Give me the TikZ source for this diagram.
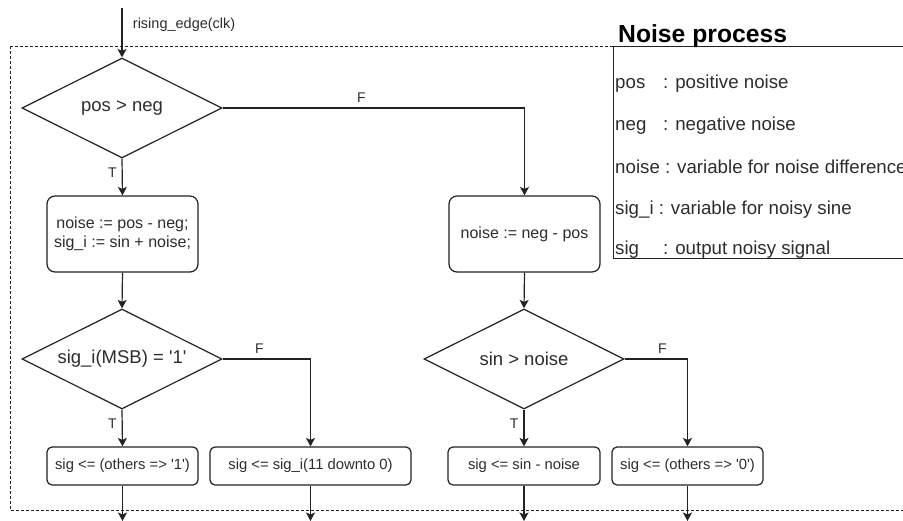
\documentclass[tikz,border=0pt]{standalone}
\usepackage{fontspec}
\setmainfont{Liberation Sans}[Ligatures=TeXOff]
\usetikzlibrary{shapes.geometric,arrows.meta}

\definecolor{ink}{RGB}{34,34,34}
\definecolor{txt}{RGB}{45,45,45}

\begin{document}
\begin{tikzpicture}[x=1pt,y=-1pt,
  every node/.style={text=txt},
  proc/.style={draw=ink, line width=1.2pt, fill=white, rounded corners=8pt,
    align=center, minimum width=151pt, minimum height=76pt, inner sep=2pt,
    font=\fontsize{16}{18.5}\selectfont},
  assign/.style={draw=ink, line width=1.2pt, fill=white, rounded corners=5pt,
    align=center, minimum height=38pt, inner sep=2pt,
    font=\fontsize{14.8}{17}\selectfont},
  decision/.style={diamond, aspect=2, draw=ink, line width=1.2pt, fill=white,
    minimum width=200pt, minimum height=100pt, inner sep=0pt,
    font=\fontsize{18.5}{22}\selectfont},
  flow/.style={draw=ink, line width=1.2pt, -{Stealth[length=8.5pt,width=9pt,inset=2pt]}},
  branch/.style={font=\fontsize{14}{16}\selectfont, inner sep=2pt},
  legendtext/.style={font=\fontsize{18.7}{22}\selectfont, anchor=base west, inner sep=0pt},
  frame/.style={draw=ink, line width=1pt, dash pattern=on 3pt off 2pt}
]
\path[use as bounding box] (0,0) rectangle (903,520);
\clip (0,0) rectangle (903,520);

% process boundary
\draw[frame] (10,46) rectangle (980,510);

% legend
\node[draw=ink, line width=1.2pt, fill=white, minimum width=380pt, minimum height=212pt,
      anchor=north west, inner sep=0pt] (legend) at (613,46) {};
\node[anchor=base west, inner sep=0pt, text=black,
      font=\bfseries\fontsize{24.7}{28}\selectfont] (ltitle) at (618,42) {Noise process};
\node[legendtext] (l1) at (615,88)  {\makebox[48pt][l]{pos}: positive noise};
\node[legendtext] (l2) at (615,130) {\makebox[48pt][l]{neg}: negative noise};
\node[legendtext] (l3) at (615,173) {noise : variable for noise difference};
\node[legendtext] (l4) at (615,214) {sig\_i : variable for noisy sine};
\node[legendtext] (l5) at (615,254) {\makebox[48pt][l]{sig}: output noisy signal};

% flowchart nodes
\coordinate (start) at (122,8);
\node[decision] (d1) at (122,108) {pos > neg};
\node[proc] (b1) at (122.5,234) {noise := pos - neg;\\sig\_i := sin + noise;};
\node[proc] (b2) at (524.5,234) {noise := neg - pos};
\node[decision] (d2) at (122,359) {sig\_i(MSB) = '1'};
\node[decision] (d3) at (524,359) {sin > noise};
\node[assign, minimum width=151pt] (b3) at (122.5,466) {sig <= (others => '1')};
\node[assign, minimum width=201pt] (b4) at (310.5,466) {sig <= sig\_i(11 downto 0)};
\node[assign, minimum width=152pt] (b5) at (524,466) {sig <= sin - noise};
\node[assign, minimum width=151pt] (b6) at (687.5,466) {sig <= (others => '0')};

\coordinate (o3) at (b3.south |- 0,521);
\coordinate (o4) at (b4.south |- 0,521);
\coordinate (o5) at (b5.south |- 0,521);
\coordinate (o6) at (b6.south |- 0,521);

% connectors
\draw[flow] (start) -- (d1.north)
  node[pos=0.34, right, font=\fontsize{14.5}{16}\selectfont, xshift=7pt] (clk) {rising\_edge(clk)};
\draw[flow] (d1.south) -- (b1.north) node[branch, pos=0.38, left, xshift=-3pt] {T};
\draw[flow] (d1.east) -| (b2.north) node[branch, pos=0.23, above, yshift=3pt] {F};
\draw[flow] (b1.south) -- (d2.north);
\draw[flow] (b2.south) -- (d3.north);
\draw[flow] (d2.south) -- (b3.north) node[branch, pos=0.38, left, xshift=-3pt] {T};
\draw[flow] (d2.east) -| (b4.north) node[branch, pos=0.21, above, yshift=3pt] {F};
\draw[flow] (d3.south) -- (b5.north) node[branch, pos=0.38, left, xshift=-3pt] {T};
\draw[flow] (d3.east) -| (b6.north) node[branch, pos=0.3, above, yshift=3pt] {F};
\draw[flow] (b3.south) -- (o3);
\draw[flow] (b4.south) -- (o4);
\draw[flow] (b5.south) -- (o5);
\draw[flow] (b6.south) -- (o6);
\end{tikzpicture}
\end{document}
